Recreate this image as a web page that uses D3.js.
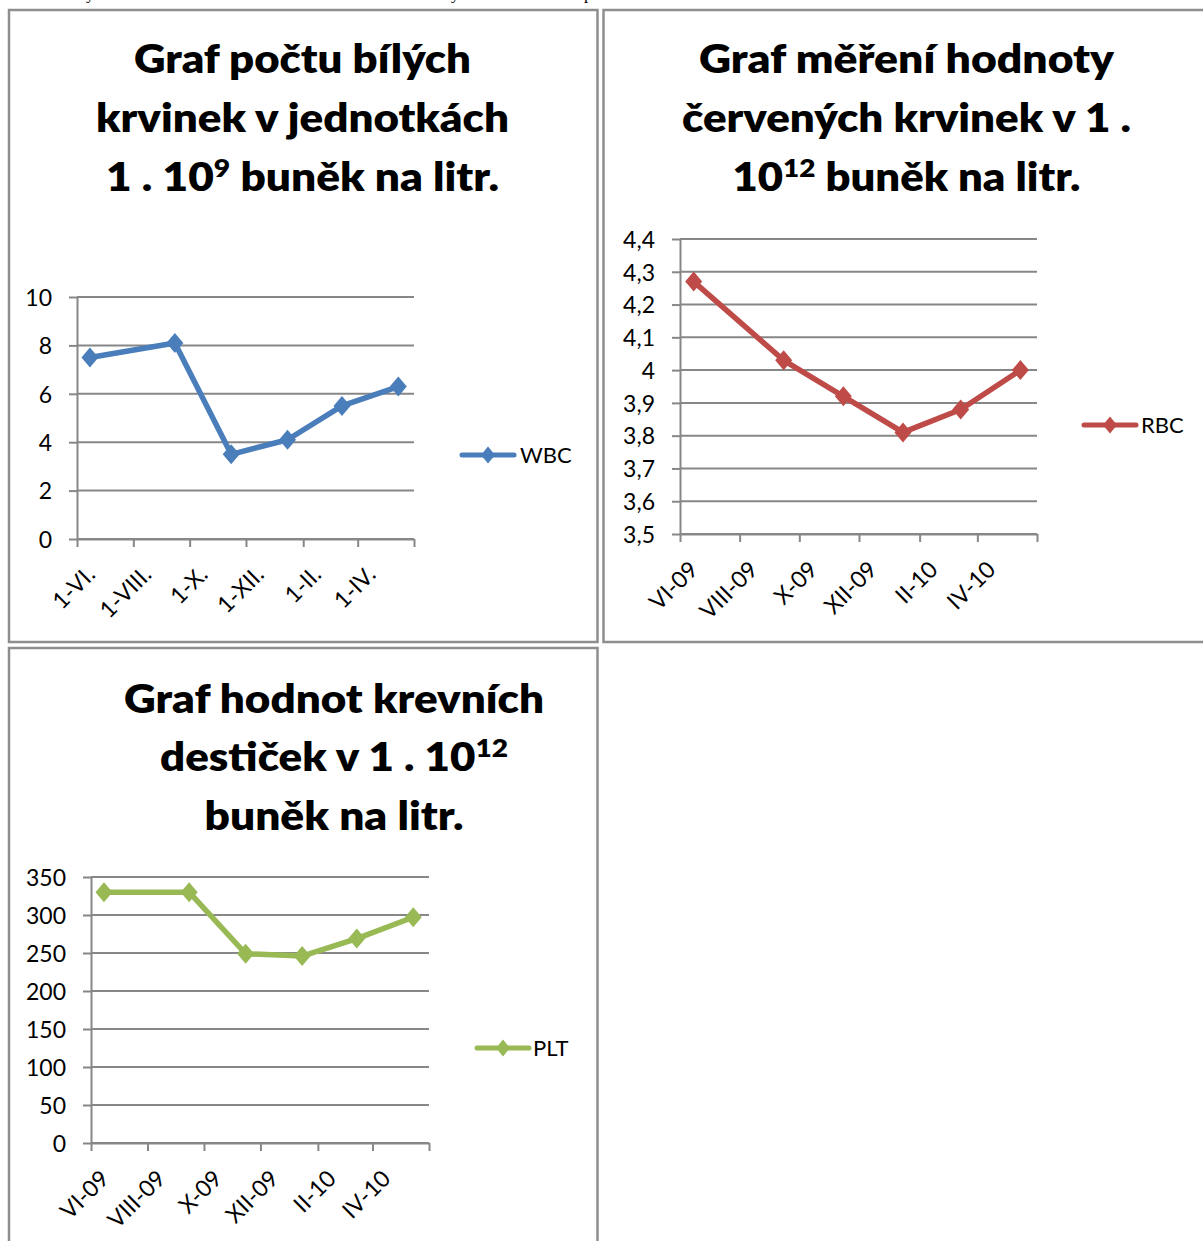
<!DOCTYPE html>
<html>
<head>
<meta charset="utf-8">
<script src="https://cdn.jsdelivr.net/npm/d3@7"></script>
<style>
  html, body { margin: 0; padding: 0; background: #fff; }
  svg { display: block; }
</style>
</head>
<body>
<svg id="page" width="1203" height="1241"></svg>
<script>
// ---- data -------------------------------------------------------------
// sampling dates (one measurement every two months, mid-month)
const sampleDates = ["2009-06-15", "2009-09-15", "2009-11-15", "2010-01-15", "2010-03-15", "2010-05-15"];
const axisStart = "2009-06-01";
const axisEnd = "2010-06-01";

const wbcValues = [7.5, 8.1, 3.5, 4.1, 5.5, 6.3];
const rbcValues = [4.27, 4.03, 3.92, 3.81, 3.88, 4.0];
const pltValues = [330, 330, 249, 246, 269, 297];

const wbcTicks = [0, 2, 4, 6, 8, 10];
const rbcTicks = [3.5, 3.6, 3.7, 3.8, 3.9, 4.0, 4.1, 4.2, 4.3, 4.4];
const pltTicks = [0, 50, 100, 150, 200, 250, 300, 350];

const wbcDateLabels = ["1-VI.", "1-VIII.", "1-X.", "1-XII.", "1-II.", "1-IV."];
const monthYearLabels = ["VI-09", "VIII-09", "X-09", "XII-09", "II-10", "IV-10"];

const wbcTitle = [
  [{ t: "Graf počtu bílých" }],
  [{ t: "krvinek v jednotkách" }],
  [{ t: "1 . 10" }, { t: "9", sup: true }, { t: " buněk na litr." }]
];
const rbcTitle = [
  [{ t: "Graf měření hodnoty" }],
  [{ t: "červených krvinek v 1 ." }],
  [{ t: "10" }, { t: "12", sup: true }, { t: " buněk na litr." }]
];
const pltTitle = [
  [{ t: "Graf hodnot krevních" }],
  [{ t: "destiček v 1 . 10" }, { t: "12", sup: true }],
  [{ t: "buněk na litr." }]
];

// ---- helpers ----------------------------------------------------------
const parse = d3.timeParse("%Y-%m-%d");
const czLocale = d3.formatLocale({ decimal: ",", thousands: " ", grouping: [3], currency: ["", " Kč"] });
const fmtNum = czLocale.format("~g");

const svg = d3.select("#page");
const FONT = "Lato, 'Open Sans', sans-serif";
const GRID = "#878787";

// document fragments clipped at the top edge of the page
svg.append("g")
  .attr("font-family", "'Liberation Serif', 'DejaVu Serif', serif")
  .attr("font-size", 17)
  .selectAll("text")
  .data([{ x: 86, c: "y" }, { x: 451, c: "y" }, { x: 584, c: "p" }])
  .join("text")
  .attr("x", d => d.x).attr("y", -1).text(d => d.c);

// table cell frames
const frames = svg.append("g").attr("fill", "none").attr("stroke", "#8e8e8e").attr("stroke-width", 2.5);
frames.append("rect").attr("x", 9).attr("y", 10).attr("width", 588.5).attr("height", 632);
frames.append("rect").attr("x", 603.5).attr("y", 10).attr("width", 640).attr("height", 632);
frames.append("rect").attr("x", 9).attr("y", 648).attr("width", 588.5).attr("height", 640);

function drawTitle(lines, cfg) {
  const g = svg.append("g")
    .attr("font-family", FONT)
    .attr("font-weight", 800)
    .attr("font-size", cfg.size)
    .attr("fill", "#000");
  lines.forEach((segs, i) => {
    const txt = g.append("text")
      .attr("x", cfg.cx)
      .attr("y", cfg.baselines[i])
      .attr("text-anchor", "middle");
    let raised = false;
    segs.forEach(s => {
      const ts = txt.append("tspan").text(s.t);
      if (s.sup) {
        ts.attr("font-size", cfg.size * 0.64).attr("dy", -cfg.size * 0.36);
        raised = true;
      } else if (raised) {
        ts.attr("dy", cfg.size * 0.36);
        raised = false;
      }
    });
    if (cfg.widths && cfg.widths[i]) {
      txt.attr("textLength", cfg.widths[i]).attr("lengthAdjust", "spacingAndGlyphs");
    }
  });
}

function drawChart(cfg) {
  const { plot } = cfg;
  const w = plot.right - plot.left;
  const h = plot.bottom - plot.top;

  const start = parse(axisStart);
  const end = parse(axisEnd);
  const x = d3.scaleTime().domain([start, end]).range([0, w]);
  const y = d3.scaleLinear().domain(cfg.yDomain).range([h, 0]);
  // a tick on the first of every second month, starting with the axis start
  const tickDates = d3.timeMonth.range(start, d3.timeDay.offset(end, 1), 2);

  const g = svg.append("g").attr("transform", `translate(${plot.left},${plot.top})`);

  // horizontal gridlines
  g.append("g").selectAll("line")
    .data(cfg.yTicks)
    .join("line")
    .attr("x1", 0).attr("x2", w)
    .attr("y1", d => y(d)).attr("y2", d => y(d))
    .attr("stroke", GRID).attr("stroke-width", 2);

  // value axis
  const yAxis = g.append("g")
    .call(d3.axisLeft(y).tickValues(cfg.yTicks).tickSize(8).tickSizeOuter(0).tickPadding(17).tickFormat(fmtNum));
  yAxis.select(".domain").attr("stroke", GRID).attr("stroke-width", 2);
  yAxis.selectAll(".tick line").attr("stroke", GRID).attr("stroke-width", 2);
  yAxis.selectAll(".tick text")
    .attr("font-family", FONT).attr("font-size", 23).attr("fill", "#000")
    .attr("dy", "0.36em");

  // date axis
  const xAxis = g.append("g")
    .attr("transform", `translate(0,${h})`)
    .call(d3.axisBottom(x).tickValues(tickDates).tickSize(8).tickSizeOuter(0)
      .tickFormat((d, i) => cfg.xLabels[i] || ""));
  xAxis.select(".domain").attr("stroke", GRID).attr("stroke-width", 2);
  xAxis.selectAll(".tick line").attr("stroke", GRID).attr("stroke-width", 2);
  xAxis.selectAll(".tick text")
    .attr("font-family", FONT).attr("font-size", 23).attr("fill", "#000")
    .attr("x", null).attr("y", null).attr("dy", null)
    .attr("text-anchor", "end")
    .attr("transform", "translate(19,37) rotate(-45)");

  // series
  const pts = sampleDates.map((d, i) => ({ date: parse(d), v: cfg.values[i] }));
  const line = d3.line().x(d => x(d.date)).y(d => y(d.v));
  g.append("path")
    .datum(pts)
    .attr("d", line)
    .attr("fill", "none")
    .attr("stroke", cfg.color)
    .attr("stroke-width", 5.5)
    .attr("stroke-linejoin", "round")
    .attr("stroke-linecap", "round");

  const diamond = "M0,-10L8.5,0L0,10L-8.5,0Z";
  g.append("g").selectAll("path")
    .data(pts)
    .join("path")
    .attr("d", diamond)
    .attr("transform", d => `translate(${x(d.date)},${y(d.v)})`)
    .attr("fill", cfg.color);

  // legend
  const lg = svg.append("g");
  const L = cfg.legend;
  lg.append("line")
    .attr("x1", L.x1).attr("x2", L.x2).attr("y1", L.y).attr("y2", L.y)
    .attr("stroke", cfg.color).attr("stroke-width", 5).attr("stroke-linecap", "round");
  lg.append("path")
    .attr("d", "M0,-8.5L7,0L0,8.5L-7,0Z")
    .attr("transform", `translate(${(L.x1 + L.x2) / 2},${L.y})`)
    .attr("fill", cfg.color);
  lg.append("text")
    .attr("x", L.textX).attr("y", L.y).attr("dy", "0.36em")
    .attr("font-family", FONT).attr("font-size", 22).attr("fill", "#000")
    .text(cfg.name);

  drawTitle(cfg.title, cfg.titleCfg);
}

drawChart({
  name: "WBC",
  values: wbcValues,
  color: "#4a7ebb",
  yDomain: [0, 10],
  yTicks: wbcTicks,
  xLabels: wbcDateLabels,
  plot: { left: 77, top: 297, right: 414, bottom: 539 },
  legend: { x1: 462, x2: 514, y: 455, textX: 520 },
  title: wbcTitle,
  titleCfg: { cx: 302.5, size: 39, baselines: [73, 132, 191], widths: [337, 413, 393] }
});

drawChart({
  name: "RBC",
  values: rbcValues,
  color: "#be4b48",
  yDomain: [3.5, 4.4],
  yTicks: rbcTicks,
  xLabels: monthYearLabels,
  plot: { left: 680, top: 239, right: 1037, bottom: 534 },
  legend: { x1: 1084, x2: 1136, y: 425, textX: 1141 },
  title: rbcTitle,
  titleCfg: { cx: 906.5, size: 39, baselines: [73, 132, 191], widths: [415, 449, 348] }
});

drawChart({
  name: "PLT",
  values: pltValues,
  color: "#98b954",
  yDomain: [0, 350],
  yTicks: pltTicks,
  xLabels: monthYearLabels,
  plot: { left: 91, top: 877, right: 429, bottom: 1143 },
  legend: { x1: 477, x2: 529, y: 1048, textX: 533 },
  title: pltTitle,
  titleCfg: { cx: 334, size: 39, baselines: [713, 771, 830], widths: [420, 348, 259] }
});
</script>
</body>
</html>
